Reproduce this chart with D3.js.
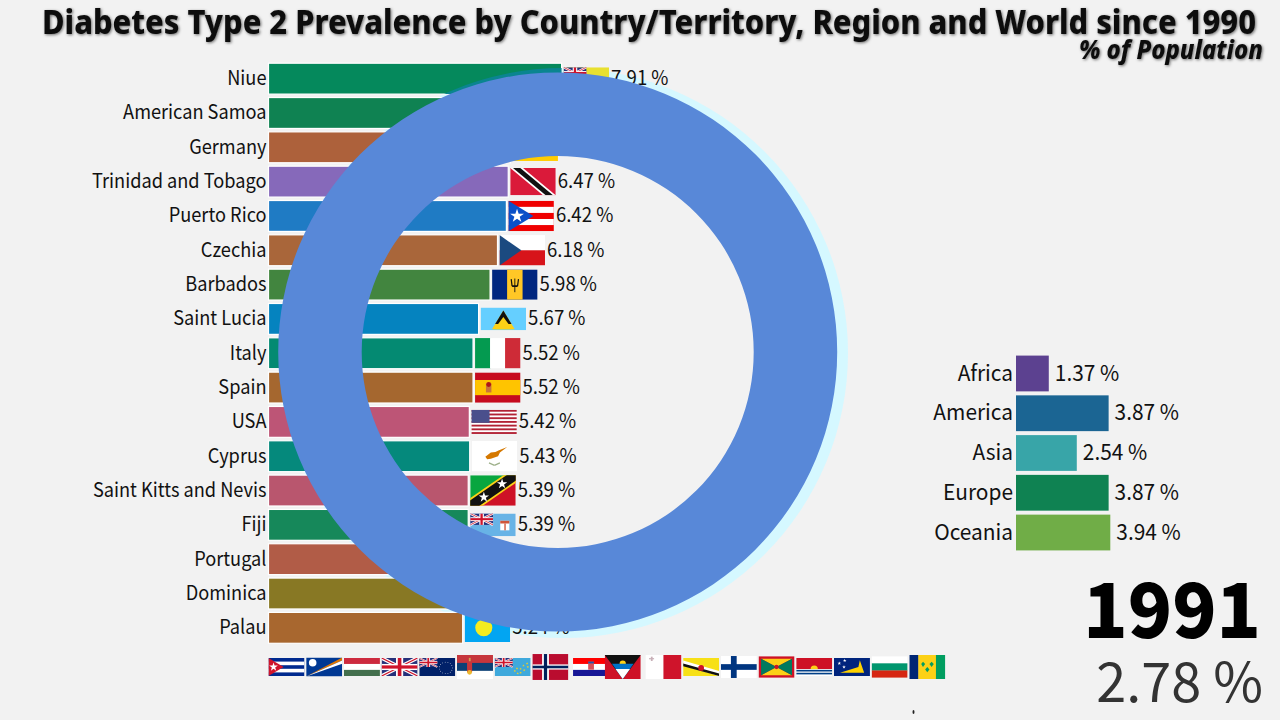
<!DOCTYPE html>
<html lang="en">
<head>
<meta charset="utf-8">
<title>Diabetes Type 2 Prevalence</title>
<script src="https://cdn.jsdelivr.net/npm/d3@7/dist/d3.min.js"></script>
<style>
  html, body { margin: 0; padding: 0; background: #f2f2f2; }
  svg { display: block; }
  text { font-family: "Noto Sans CJK JP", "Noto Sans", sans-serif; fill: #111; }
</style>
</head>
<body>
<script>
// values
var countries = ["Niue", "American Samoa", "Germany", "Trinidad and Tobago", "Puerto Rico", "Czechia", "Barbados", "Saint Lucia", "Italy", "Spain", "USA", "Cyprus", "Saint Kitts and Nevis", "Fiji", "Portugal", "Dominica", "Palau"];
var countryValues = [7.91, 7.2, 6.53, 6.47, 6.42, 6.18, 5.98, 5.67, 5.52, 5.52, 5.42, 5.43, 5.39, 5.39, 5.33, 5.3, 5.24];
var countryColors = ["#05895c", "#0f8252", "#ad613b", "#8669ba", "#1f7bc4", "#a9663a", "#42853f", "#0583bf", "#048a72", "#a5672f", "#bd5576", "#05897c", "#b9566e", "#16885a", "#b15c47", "#887824", "#a8672f"];
var countryFlags = ["NU", "AS", "DE", "TT", "PR", "CZ", "BB", "LC", "IT", "ES", "US", "CY", "KN", "FJ", "PT", "DM", "PW"];

var nextFlags = ["CU", "MH", "HU", "GB", "CK", "RS", "TV", "NO", "HR", "AG", "MT", "BN", "FI", "GD", "KI", "TK", "BG", "VC"];

var regions = ["Africa", "America", "Asia", "Europe", "Oceania"];
var regionValues = [1.37, 3.87, 2.54, 3.87, 3.94];
var regionColors = ["#5c4190", "#1b6593", "#38a5a8", "#0f8252", "#70ad47"];

var year = "1991";
var worldValue = 2.78;

var pct = function(v) { return v.toFixed(2) + " %"; };
// the reference type is narrower than the installed fonts
var squeeze = function(px, py, sx) { return "translate(" + px + "," + py + ") scale(" + sx + ",1)"; };

var svg = d3.select("body").append("svg").attr("width", 1280).attr("height", 720);
svg.append("rect").attr("width", 1280).attr("height", 720).attr("fill", "#f2f2f2");

var defs = svg.append("defs");
var soft = defs.append("filter").attr("id", "soft").attr("x", "-2%").attr("y", "-20%").attr("width", "104%").attr("height", "140%");
soft.append("feDropShadow").attr("dx", 1).attr("dy", 1).attr("stdDeviation", 1.6).attr("flood-color", "#000").attr("flood-opacity", 0.55);

// flag painters, units are fractions of the flag box
function painter(g, w, h) {
  return {
    r: function(x, y, a, b, c) { g.append("rect").attr("x", x*w).attr("y", y*h).attr("width", a*w).attr("height", b*h).attr("fill", c); },
    p: function(pts, c) { g.append("polygon").attr("points", pts.map(function(q) { return (q[0]*w) + "," + (q[1]*h); }).join(" ")).attr("fill", c); },
    c: function(x, y, r, c) { g.append("circle").attr("cx", x*w).attr("cy", y*h).attr("r", r*h).attr("fill", c); },
    s: function(x, y, r, c) {
      var size = Math.PI * Math.pow(r*h, 2) * 0.8;
      g.append("path").attr("d", d3.symbol(d3.symbolStar, size)()).attr("transform", "translate(" + (x*w) + "," + (y*h) + ")").attr("fill", c);
    },
    l: function(x1, y1, x2, y2, c, sw) { g.append("line").attr("x1", x1*w).attr("y1", y1*h).attr("x2", x2*w).attr("y2", y2*h).attr("stroke", c).attr("stroke-width", sw*h); }
  };
}

function jack(f, ww, hh) {
  f.r(0, 0, ww, hh, "#26307a");
  f.l(0, 0, ww, hh, "#fff", 0.2*hh); f.l(ww, 0, 0, hh, "#fff", 0.2*hh);
  f.l(0, 0, ww, hh, "#cf142b", 0.07*hh); f.l(ww, 0, 0, hh, "#cf142b", 0.07*hh);
  f.r(ww*0.5-ww*0.1, 0, ww*0.2, hh, "#fff"); f.r(0, hh*0.5-hh*0.17, ww, hh*0.34, "#fff");
  f.r(ww*0.5-ww*0.05, 0, ww*0.1, hh, "#cf142b"); f.r(0, hh*0.5-hh*0.09, ww, hh*0.18, "#cf142b");
}

var flagRatio = { NU: .5, AS: .5, DE: .6, TT: .6, PR: .667, CZ: .667, BB: .667, LC: .5, IT: .667, ES: .667, US: .53, CY: .667, KN: .667, FJ: .5, PT: .667, DM: .5, PW: .625,
  CU: .5, MH: .526, HU: .5, GB: .5, CK: .5, RS: .667, TV: .5, NO: .72, HR: .5, AG: .667, MT: .667, BN: .5, FI: .61, GD: .6, KI: .5, TK: .5, BG: .6, VC: .667 };

var flagPaint = {
  NU: function(f) { f.r(0,0,1,1,"#e8e030"); jack(f,.5,.5); },
  AS: function(f) { f.r(0,0,1,1,"#1b2f6b"); f.p([[1,0],[1,1],[.1,.5]],"#fff"); f.p([[1,.08],[1,.92],[.2,.5]],"#bd1f34"); },
  DE: function(f) { f.r(0,0,1,.34,"#111"); f.r(0,.33,1,.34,"#dd0000"); f.r(0,.66,1,.34,"#ffcc00"); },
  TT: function(f) { f.r(0,0,1,1,"#da1a3a"); f.p([[0,0],[.28,0],[1,1],[.72,1]],"#fff"); f.p([[.06,0],[.22,0],[.94,1],[.78,1]],"#111"); },
  PR: function(f) { f.r(0,0,1,1,"#ef0000"); f.r(0,.2,1,.2,"#fff"); f.r(0,.6,1,.2,"#fff"); f.p([[0,0],[.55,.5],[0,1]],"#0a50c8"); f.s(.19,.5,.16,"#fff"); },
  CZ: function(f) { f.r(0,0,1,.5,"#fff"); f.r(0,.5,1,.5,"#d7141a"); f.p([[0,0],[.48,.5],[0,1]],"#1b4a80"); },
  BB: function(f) { f.r(0,0,1,1,"#00267f"); f.r(.33,0,.34,1,"#ffc726"); f.r(.49,.3,.02,.45,"#111"); f.l(.42,.32,.44,.55,"#111",.04); f.l(.58,.32,.56,.55,"#111",.04); f.l(.44,.55,.56,.55,"#111",.05); },
  LC: function(f) { f.r(0,0,1,1,"#65cfff"); f.p([[.5,.13],[.75,.95],[.25,.95]],"#fcd116"); f.p([[.5,.13],[.68,.72],[.32,.72]],"#111"); f.p([[.5,.42],[.7,.95],[.3,.95]],"#fcd116"); },
  IT: function(f) { f.r(0,0,.34,1,"#049a50"); f.r(.33,0,.34,1,"#fff"); f.r(.66,0,.34,1,"#ce2b37"); },
  ES: function(f) { f.r(0,0,1,1,"#c60b1e"); f.r(0,.25,1,.5,"#ffc400"); f.r(.24,.36,.12,.3,"#c8733a"); f.c(.3,.4,.08,"#ad1519"); },
  US: function(f) { f.r(0,0,1,1,"#fff"); d3.range(0,13,2).forEach(function(i) { f.r(0,i/13,1,1/13,"#b22234"); }); f.r(0,0,.4,7/13,"#4a4f8c"); },
  CY: function(f) { f.r(0,0,1,1,"#fff"); f.p([[.3,.52],[.42,.38],[.52,.36],[.6,.3],[.78,.2],[.62,.38],[.58,.5],[.42,.58],[.34,.6]],"#d57800"); f.l(.38,.72,.5,.8,"#9caf88",.04); f.l(.62,.72,.5,.8,"#9caf88",.04); },
  KN: function(f) { f.p([[0,0],[1,0],[0,1]],"#08a63f"); f.p([[1,0],[1,1],[0,1]],"#ce1126"); f.l(0,1.02,1,-.02,"#fcd116",.44); f.l(0,1.02,1,-.02,"#111",.32); f.s(.3,.72,.12,"#fff"); f.s(.7,.28,.12,"#fff"); },
  FJ: function(f) { f.r(0,0,1,1,"#68b3e6"); jack(f,.5,.5); f.r(.66,.32,.2,.42,"#fff"); f.r(.66,.32,.2,.12,"#d0553a"); f.r(.75,.44,.03,.3,"#d0553a"); },
  PT: function(f) { f.r(0,0,.4,1,"#046a38"); f.r(.4,0,.6,1,"#da291c"); f.c(.4,.5,.2,"#ffe900"); },
  DM: function(f) { f.r(0,0,1,1,"#006b3f"); f.r(0,.4,1,.2,"#fcd116"); f.r(.44,0,.12,1,"#111"); f.c(.5,.5,.25,"#d41c30"); },
  PW: function(f) { f.r(0,0,1,1,"#02a5f2"); f.c(.42,.5,.3,"#f4ec20"); },
  CU: function(f) { f.r(0,0,1,1,"#002a8f"); f.r(0,.2,1,.2,"#fff"); f.r(0,.6,1,.2,"#fff"); f.p([[0,0],[.42,.5],[0,1]],"#cf142b"); f.s(.14,.5,.17,"#fff"); },
  MH: function(f) { f.r(0,0,1,1,"#003893"); f.p([[0,1],[1,0],[1,.16]],"#dd7500"); f.p([[0,1],[1,.16],[1,.33]],"#fff"); f.c(.18,.28,.2,"#fff"); },
  HU: function(f) { f.r(0,0,1,.34,"#cd2a3e"); f.r(0,.33,1,.34,"#fff"); f.r(0,.66,1,.34,"#436f4d"); },
  GB: function(f) { jack(f,1,1); },
  CK: function(f) { f.r(0,0,1,1,"#012169"); jack(f,.5,.5); d3.range(15).forEach(function(i) { var a = i/15*2*Math.PI; f.c(.74+.18*Math.cos(a),.55+.32*Math.sin(a),.025,"#fff"); }); },
  RS: function(f) { f.r(0,0,1,.34,"#c6363c"); f.r(0,.33,1,.34,"#0c4076"); f.r(0,.66,1,.34,"#fff"); f.r(.28,.22,.14,.5,"#c6363c"); f.r(.33,.12,.05,.14,"#d0a050"); f.c(.35,.72,.1,"#edb92e"); },
  TV: function(f) { f.r(0,0,1,1,"#3fa9dc"); jack(f,.5,.5); [[.56,.72],[.64,.85],[.72,.6],[.72,.82],[.8,.42],[.82,.68],[.9,.3],[.92,.5],[.62,.58]].forEach(function(q) { f.s(q[0],q[1],.05,"#fcd116"); }); },
  NO: function(f) { f.r(0,0,1,1,"#ba0c2f"); f.r(.27,0,.19,1,"#fff"); f.r(0,.4,1,.2,"#fff"); f.r(.32,0,.09,1,"#00205b"); f.r(0,.45,1,.1,"#00205b"); },
  HR: function(f) { f.r(0,0,1,.34,"#ff0000"); f.r(0,.33,1,.34,"#fff"); f.r(0,.66,1,.34,"#171796"); f.r(.42,.2,.16,.45,"#d8505a"); f.r(.42,.2,.16,.1,"#2b55a5"); },
  AG: function(f) { f.r(0,0,1,1,"#ce1126"); f.p([[0,0],[1,0],[.5,1]],"#111"); f.c(.5,.36,.13,"#fcd116"); f.p([[.2,.36],[.8,.36],[.5,1]],"#0072c6"); f.p([[.3,.58],[.7,.58],[.5,1]],"#fff"); },
  MT: function(f) { f.r(0,0,.5,1,"#fff"); f.r(.5,0,.5,1,"#cf142b"); f.r(.1,.13,.14,.05,"#c8b0b8"); f.r(.15,.07,.05,.18,"#c8b0b8"); },
  BN: function(f) { f.r(0,0,1,1,"#f7e017"); f.p([[0,.14],[1,.72],[1,1],[0,.42]],"#fff"); f.p([[0,.3],[1,.86],[1,1],[0,.46]],"#111"); f.c(.5,.55,.16,"#cf1126"); },
  FI: function(f) { f.r(0,0,1,1,"#fff"); f.r(.28,0,.16,1,"#003580"); f.r(0,.37,1,.26,"#003580"); },
  GD: function(f) { f.r(0,0,1,1,"#ce1126"); f.p([[.07,.12],[.93,.12],[.5,.5]],"#fcd116"); f.p([[.07,.88],[.93,.88],[.5,.5]],"#fcd116"); f.p([[.07,.12],[.5,.5],[.07,.88]],"#007a5e"); f.p([[.93,.12],[.5,.5],[.93,.88]],"#007a5e"); f.c(.5,.5,.1,"#ce1126"); },
  KI: function(f) { f.r(0,0,1,.62,"#ce1126"); f.c(.5,.62,.2,"#fcd116"); f.r(0,.62,1,.38,"#fff"); [.66,.82].forEach(function(y) { f.r(0,y,1,.09,"#003f87"); }); },
  TK: function(f) { f.r(0,0,1,1,"#00247d"); f.p([[.17,.82],[.68,.5],[.72,.12],[.84,.82]],"#fed100"); f.s(.15,.3,.07,"#fff"); f.s(.3,.14,.07,"#fff"); f.s(.28,.5,.07,"#fff"); },
  BG: function(f) { f.r(0,0,1,.34,"#fff"); f.r(0,.33,1,.34,"#00966e"); f.r(0,.66,1,.34,"#d62612"); },
  VC: function(f) { f.r(0,0,.26,1,"#002674"); f.r(.25,0,.5,1,"#fcd116"); f.r(.74,0,.26,1,"#009e60"); f.p([[.5,.72],[.44,.6],[.5,.5],[.56,.6]],"#009e60"); f.p([[.38,.5],[.33,.38],[.38,.28],[.44,.38]],"#009e60"); f.p([[.62,.5],[.56,.38],[.62,.28],[.68,.38]],"#009e60"); }
};

function drawFlag(parent, code, x, cy, w) {
  var h = w * flagRatio[code];
  var g = parent.append("g").attr("transform", "translate(" + x + "," + (cy - h/2) + ")");
  var clipId = "clip-" + code + "-" + Math.round(x);
  defs.append("clipPath").attr("id", clipId).append("rect").attr("width", w).attr("height", h);
  var inner = g.append("g").attr("clip-path", "url(#" + clipId + ")");
  flagPaint[code](painter(inner, w, h));
}

// pale rim goes under the bars and their labels
var ringArc = d3.arc().startAngle(0).endAngle(2 * Math.PI);
var rim = ringArc({ innerRadius: 240, outerRadius: 285 });
svg.append("path").attr("d", rim).attr("transform", "translate(563,353)").attr("fill", "#d5f8ff");

// country bars
var x = d3.scaleLinear().domain([0, 7.91]).range([268.5, 561.6]);
var y = d3.scaleBand().domain(countries).range([61.5, 645]).paddingInner(0.1).paddingOuter(0.05);

var rows = svg.append("g").selectAll("g").data(countries).enter().append("g");

rows.append("rect")
    .attr("x", x(0))
    .attr("y", function(d) { return y(d); })
    .attr("width", function(d, i) { return x(countryValues[i]) - x(0); })
    .attr("height", y.bandwidth())
    .attr("fill", function(d, i) { return countryColors[i]; })
    .attr("stroke", "#fff")
    .attr("stroke-width", 1.2);

rows.append("text")
    .attr("transform", function(d) { return squeeze(266.5, y(d) + y.bandwidth()/2 - 0.8, 0.91); })
    .attr("dy", "0.36em")
    .attr("text-anchor", "end")
    .attr("font-size", 20)
    .text(function(d) { return d; });

var flagW = 45.5;
countries.forEach(function(d, i) {
  var cy = y(d) + y.bandwidth()/2;
  drawFlag(svg, countryFlags[i], x(countryValues[i]) + 2, cy, flagW);
  svg.append("text")
      .attr("transform", squeeze(x(countryValues[i]) + 2 + flagW + 2, cy - 0.8, 0.93))
      .attr("dy", "0.36em")
      .attr("font-size", 20)
      .text(pct(countryValues[i]));
});

// flags waiting below the chart
var below = d3.scaleBand().domain(nextFlags).range([268.5, 947]);
var belowNudge = { HR: 3, AG: -3 };
nextFlags.forEach(function(code) {
  drawFlag(svg, code, below(code) + (belowNudge[code] || 0), 667, 36);
});

// the rim tints the top bar where it crosses it
defs.append("clipPath").attr("id", "barClip").append("rect")
    .attr("x", x(0)).attr("y", y(countries[0]))
    .attr("width", x(countryValues[0]) - x(0)).attr("height", y.bandwidth());
svg.append("g").attr("clip-path", "url(#barClip)")
    .append("path").attr("d", rim).attr("transform", "translate(563,353)").attr("fill", "#0a8590");

svg.append("path")
    .attr("d", ringArc({ innerRadius: 196, outerRadius: 279.5 }))
    .attr("transform", "translate(557.7,352)")
    .attr("fill", "#5888d8");

// title
svg.append("text")
    .attr("x", 42).attr("y", 34)
    .style("font-family", '"Noto Sans", sans-serif')
    .attr("font-weight", 800)
    .attr("font-size", 34)
    .attr("textLength", 1214)
    .attr("lengthAdjust", "spacingAndGlyphs")
    .attr("filter", "url(#soft)")
    .text("Diabetes Type 2 Prevalence by Country/Territory, Region and World since 1990");

svg.append("text")
    .attr("x", 1079).attr("y", 59)
    .style("font-family", '"Noto Sans", sans-serif')
    .attr("font-weight", 800)
    .attr("font-style", "italic")
    .attr("font-size", 27)
    .attr("textLength", 184)
    .attr("lengthAdjust", "spacingAndGlyphs")
    .attr("filter", "url(#soft)")
    .text("% of Population");

// region bars
var rx = d3.scaleLinear().domain([0, 3.94]).range([1016, 1110.3]);
var ry = d3.scaleBand().domain(regions).range([354, 552]).paddingInner(0.1).paddingOuter(0.04);

var regionRows = svg.append("g").selectAll("g").data(regions).enter().append("g");
regionRows.append("rect")
    .attr("x", rx(0))
    .attr("y", function(d) { return ry(d); })
    .attr("width", function(d, i) { return rx(regionValues[i]) - rx(0); })
    .attr("height", ry.bandwidth())
    .attr("fill", function(d, i) { return regionColors[i]; });
regionRows.append("text")
    .attr("transform", function(d) { return squeeze(1013, ry(d) + ry.bandwidth()/2 - 0.8, 0.95); })
    .attr("dy", "0.36em")
    .attr("text-anchor", "end")
    .attr("font-size", 22)
    .text(function(d) { return d; });
regionRows.append("text")
    .attr("transform", function(d, i) { return squeeze(rx(regionValues[i]) + 6, ry(d) + ry.bandwidth()/2 - 0.8, 0.95); })
    .attr("dy", "0.36em")
    .attr("font-size", 22)
    .text(function(d, i) { return pct(regionValues[i]); });

// year and world value
svg.append("text")
    .attr("transform", squeeze(1261, 637.5, 0.96))
    .attr("text-anchor", "end")
    .attr("font-weight", 900)
    .attr("font-size", 76)
    .style("fill", "#000")
    .text(year);
svg.append("text")
    .attr("transform", squeeze(1263, 701.5, 1))
    .attr("text-anchor", "end")
    .attr("font-weight", 400)
    .attr("font-size", 54)
    .style("fill", "#333")
    .text(pct(worldValue));

// small speck near the bottom edge
svg.append("ellipse").attr("cx", 913.5).attr("cy", 712).attr("rx", 1).attr("ry", 2).attr("fill", "#222");
</script>
</body>
</html>
